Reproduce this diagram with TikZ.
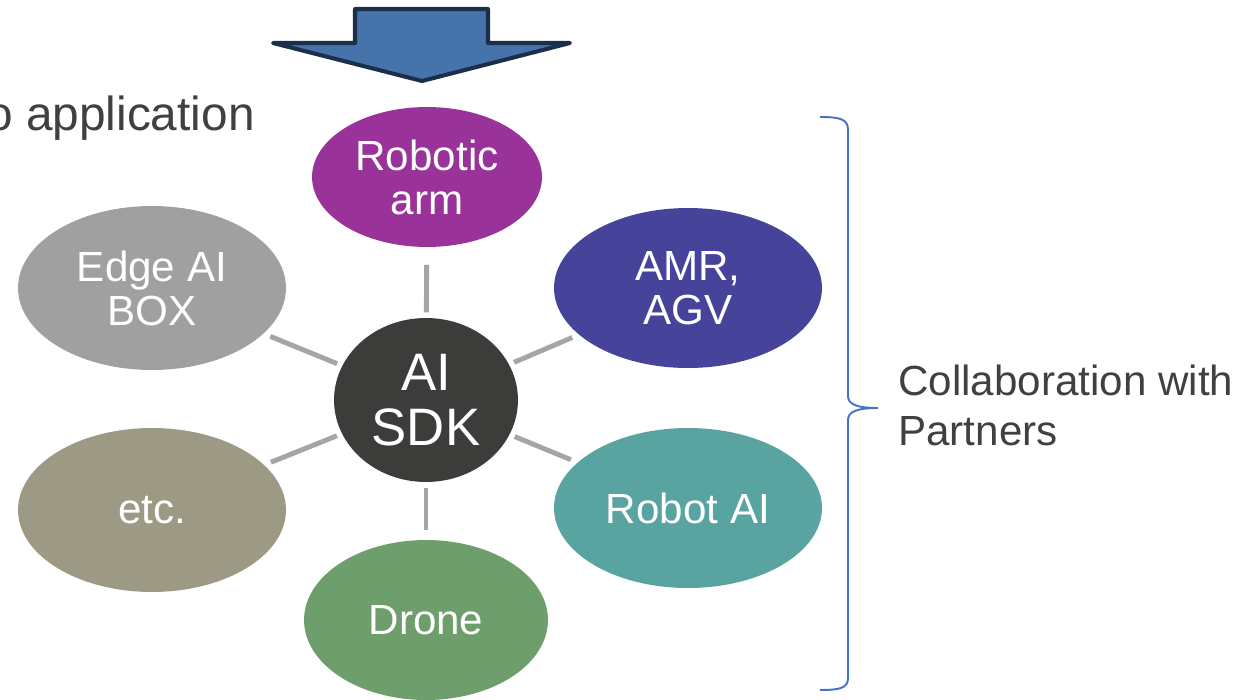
\documentclass[tikz,border=0pt]{standalone}
\usepackage{fontspec}
\setmainfont{Liberation Sans}
\usetikzlibrary{shapes,positioning}

\definecolor{armpurple}{HTML}{993399}
\definecolor{amrblue}{HTML}{46449A}
\definecolor{robotteal}{HTML}{59A3A1}
\definecolor{dronegreen}{HTML}{6E9E6C}
\definecolor{etckhaki}{HTML}{9C9A84}
\definecolor{edgegray}{HTML}{A0A0A0}
\definecolor{sdkdark}{HTML}{3C3C3A}
\definecolor{spokegray}{HTML}{A5A5A5}
\definecolor{textgray}{HTML}{404040}
\definecolor{arrowfill}{HTML}{4673AA}
\definecolor{arrowline}{HTML}{1C2F4A}
\definecolor{bracecol}{HTML}{4472C4}

\begin{document}
\begin{tikzpicture}[x=0.02cm,y=-0.02cm,
    bubble/.style={ellipse,inner sep=0pt,text=white,align=center,
                   font=\fontsize{24}{25}\selectfont},
    spoke/.style={draw=spokegray,line width=2.8pt,shorten <=3pt,shorten >=4pt}]
            \useasboundingbox (0,0) rectangle (1255,700);
            % draw the big arrow on top
            \draw[fill=arrowfill,draw=arrowline,line width=2.3pt,line join=round]
                  (355,9) -- (488,9) -- (488,43) -- (570,43) -- (422,81)
                  -- (273,43) -- (355,43) -- cycle;
            \node (apptext) [anchor=base west,inner sep=0pt,text=textgray,
                  font=\fontsize{27.2}{30}\selectfont] at (-14,130) {o application};
            % draw centre and partner bubbles
            \node (sdk) [bubble,fill=sdkdark,minimum width=3.68cm,minimum height=3.28cm,
                  font=\fontsize{30}{31}\selectfont] at (426,400) {AI\\SDK};
            \node (arm) [bubble,fill=armpurple,minimum width=4.6cm,minimum height=2.8cm]
                  at (427,177) {Robotic\\arm};
            \node (amr) [bubble,fill=amrblue,minimum width=5.36cm,minimum height=3.2cm]
                  at (688,288) {AMR,\\AGV};
            \node (robotai) [bubble,fill=robotteal,minimum width=5.36cm,minimum height=3.2cm]
                  at (688,508) {Robot AI};
            \node (drone) [bubble,fill=dronegreen,minimum width=4.88cm,minimum height=3.2cm]
                  at (426,620) {Drone};
            \node (misc) [bubble,fill=etckhaki,minimum width=5.36cm,minimum height=3.28cm]
                  at (152,510) {etc.};
            \node (edge) [bubble,fill=edgegray,minimum width=5.36cm,minimum height=3.28cm]
                  at (152,288) {Edge AI\\BOX};
            % draw spokes
            \draw[spoke,shorten >=10pt] (sdk) -- (arm);
            \draw[spoke] (sdk) -- (amr);
            \draw[spoke] (sdk) -- (robotai);
            \draw[spoke,shorten >=5.5pt] (sdk) -- (drone);
            \draw[spoke] (sdk) -- (misc);
            \draw[spoke] (sdk) -- (edge);
            % draw brace and its label
            \draw[bracecol,line width=1.1pt]
                  (820,117) .. controls (840,117) and (848,119) .. (848,130)
                  -- (848,396) .. controls (848,404) and (856,408) .. (878,408)
                  .. controls (856,408) and (848,412) .. (848,420)
                  -- (848,678) .. controls (848,688) and (840,690) .. (820,690);
            \node (partners) [anchor=west,inner sep=0pt,align=left,text=textgray,
                  font=\fontsize{24}{28.5}\selectfont] at (898,405)
                  {Collaboration with\\Partners};
          \end{tikzpicture}
\end{document}
